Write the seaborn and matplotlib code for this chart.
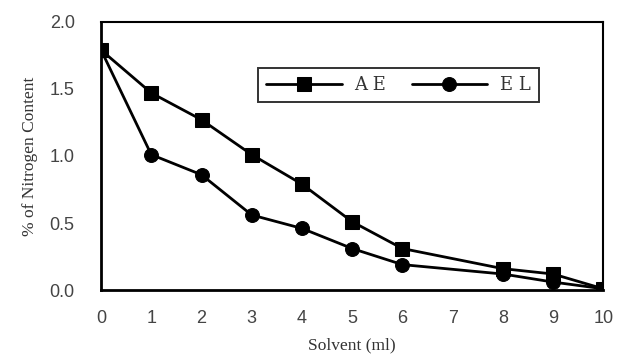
import pandas as pd
import seaborn as sns
import matplotlib.pyplot as plt
from matplotlib.ticker import FormatStrFormatter

solvent = [0, 1, 2, 3, 4, 5, 6, 8, 9, 10]
ae = [1.79, 1.47, 1.27, 1.01, 0.79, 0.51, 0.31, 0.16, 0.12, 0.01]
el = [1.79, 1.01, 0.86, 0.56, 0.46, 0.31, 0.19, 0.12, 0.06, 0.01]

df = pd.concat([
    pd.DataFrame({"Solvent": solvent, "N": ae, "Sample": "A E"}),
    pd.DataFrame({"Solvent": solvent, "N": el, "Sample": "E L"}),
])

sns.set_style("white")
fig = plt.figure(figsize=(6.2, 3.64), dpi=100)
ax = fig.add_axes([0.163, 0.203, 0.81, 0.737])

sns.lineplot(data=df, x="Solvent", y="N", hue="Sample", style="Sample",
             markers={"A E": "s", "E L": "o"}, dashes=False,
             palette={"A E": "black", "E L": "black"},
             linewidth=2, markersize=10, markeredgecolor="black", ax=ax)

ax.set_xlim(0, 10)
ax.set_ylim(0, 2.0)
ax.set_xticks(range(0, 11))
ax.set_yticks([0, 0.5, 1.0, 1.5, 2.0])
ax.yaxis.set_major_formatter(FormatStrFormatter("%.1f"))
for lab in ax.get_xticklabels() + ax.get_yticklabels():
    lab.set_fontsize(13)
    lab.set_color("#444444")
    lab.set_family("Liberation Sans")
ax.tick_params(axis="both", direction="out", length=5, width=1.2, color="black")
ax.tick_params(axis="y", pad=14)
ax.tick_params(axis="x", pad=9)

for side in ["left", "bottom"]:
    ax.spines[side].set_linewidth(2)
    ax.spines[side].set_color("black")
for side in ["top", "right"]:
    ax.spines[side].set_linewidth(1.5)
    ax.spines[side].set_color("black")

ax.set_xlabel("Solvent (ml)", family="Liberation Serif", fontsize=12.5, color="#333333", labelpad=8)
ax.set_ylabel("% of Nitrogen Content", family="Liberation Serif", fontsize=12.5, color="#333333", labelpad=8)

handles, labels = ax.get_legend_handles_labels()
leg = ax.legend(handles, labels, ncol=2, loc="center", bbox_to_anchor=(0.592, 0.765),
                frameon=True, fancybox=False, edgecolor="black", handlelength=4.2,
                columnspacing=1.4, handletextpad=0.7, borderpad=0.45,
                prop={"family": "DejaVu Serif", "size": 13})
leg.get_frame().set_linewidth(1.4)
for t in leg.get_texts():
    t.set_color("#333333")

plt.savefig("out.png", dpi=100)
